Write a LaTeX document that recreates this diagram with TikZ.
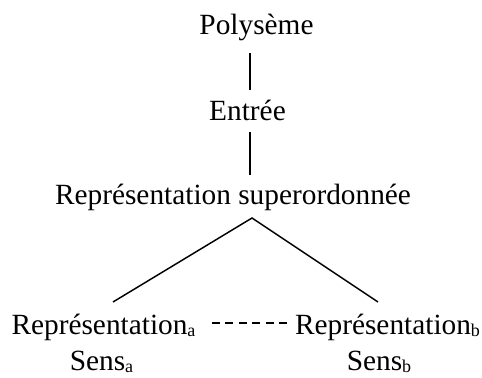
\documentclass[tikz,border=0pt]{standalone}
\usepackage{fontspec}
\setmainfont{Liberation Serif}
\newcommand\lowsub[1]{\raisebox{-1.5pt}{\fontsize{13.5}{13.5}\selectfont #1}}
\begin{document}
\begin{tikzpicture}[x=0.75pt,y=-0.75pt,
  lbl/.style={inner sep=0pt, anchor=base, font=\fontsize{22}{26}\selectfont},
  link/.style={line width=1.1pt},
  dashlink/.style={line width=1.1pt, dash pattern=on 6pt off 4.1pt}]
\useasboundingbox (0,0) rectangle (482,378);
\node[lbl] (poly) at (256.5,35) {Polysème};
\node[lbl] (entree) at (247.5,120) {Entrée};
\node[lbl] (sup) at (233,204) {Représentation superordonnée};
\node[lbl] (repa) at (103.5,334) {Représentation\lowsub{a}};
\node[lbl] (repb) at (387.5,334) {Représentation\lowsub{b}};
\node[lbl] (sensa) at (101.5,370) {Sens\lowsub{a}};
\node[lbl] (sensb) at (379,370) {Sens\lowsub{b}};
\coordinate (l1a) at (250,53);
\coordinate (l1b) at (250,90);
\coordinate (l2a) at (250,132);
\coordinate (l2b) at (250,175);
\coordinate (apex) at (252,218);
\coordinate (la) at (113,302);
\coordinate (lb) at (378,302);
\coordinate (da) at (212,323);
\coordinate (db) at (288,323);
\draw[link] (l1a) -- (l1b);
\draw[link] (l2a) -- (l2b);
\draw[link] (la) -- (apex) -- (lb);
\draw[dashlink] (da) -- (db);
\end{tikzpicture}
\end{document}
